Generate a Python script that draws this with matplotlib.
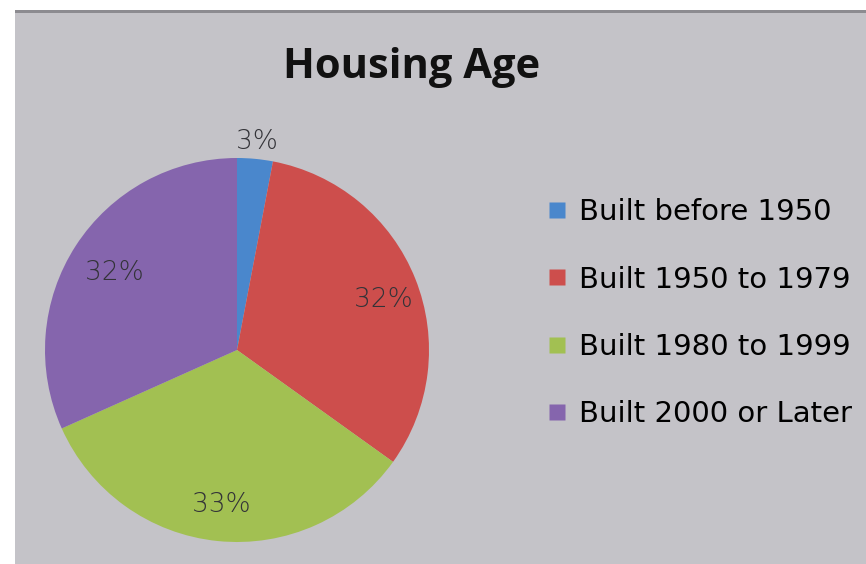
import numpy as np
import matplotlib.pyplot as plt
from matplotlib.patches import Rectangle
from matplotlib.lines import Line2D

# Данные диаграммы
categories = ['Built before 1950', 'Built 1950 to 1979', 'Built 1980 to 1999', 'Built 2000 or Later']
shares = [3.0, 31.9, 33.4, 31.7]
pct_labels = ['3%', '32%', '33%', '32%']
colors = ['#4a87cc', '#cd4e4c', '#a2c052', '#8565ad']

W, H = 866, 564
fig = plt.figure(figsize=(W / 100, H / 100), dpi=100, facecolor='white')

# Серый фон и тёмная полоса сверху
fig.patches.append(Rectangle((15 / W, 0), 1, (H - 10) / H, transform=fig.transFigure,
                             facecolor='#c4c3c8', edgecolor='none', zorder=-10))
fig.patches.append(Rectangle((15 / W, (H - 13) / H), 1, 3 / H, transform=fig.transFigure,
                             facecolor='#8c8b90', edgecolor='none', zorder=-9))

# Оси для круговой диаграммы
cx, cy, r = 237, 350, 192
ax = fig.add_axes([(cx - r) / W, (H - cy - r) / H, 2 * r / W, 2 * r / H])
ax.set_facecolor('none')

wedges, _ = ax.pie(shares, colors=colors, startangle=90, counterclock=False,
                   wedgeprops=dict(linewidth=0))
ax.set_xlim(-1, 1)
ax.set_ylim(-1, 1)
ax.set_aspect('equal')

# Подписи процентов
dists = [1.09, 0.82, 0.81, 0.76]
shifts = [0, -0.04, 0, -0.01]
for w, lab, d, s in zip(wedges, pct_labels, dists, shifts):
    ang = np.deg2rad((w.theta1 + w.theta2) / 2)
    ax.text(d * np.cos(ang), d * np.sin(ang) + s, lab, ha='center', va='center',
            fontsize=19, color='#333338', family='DejaVu Sans', fontweight='light')

# Заголовок
fig.text(412 / W, 1 - 68 / H, 'Housing Age', ha='center', va='center',
         fontsize=30, fontweight='bold', family='Open Sans', color='#111111')

# Легенда
handles = [Line2D([], [], marker='s', linestyle='none', markersize=11,
                  markerfacecolor=c, markeredgecolor='none') for c in colors]
fig.legend(handles, categories, loc='upper left', bbox_to_anchor=(516 / W, 1 - 172 / H),
           frameon=False, labelspacing=1.35, handletextpad=0.25,
           handlelength=1.0, prop={'family': 'DejaVu Sans', 'size': 21})

fig.savefig('out.png', dpi=100, facecolor='white')
